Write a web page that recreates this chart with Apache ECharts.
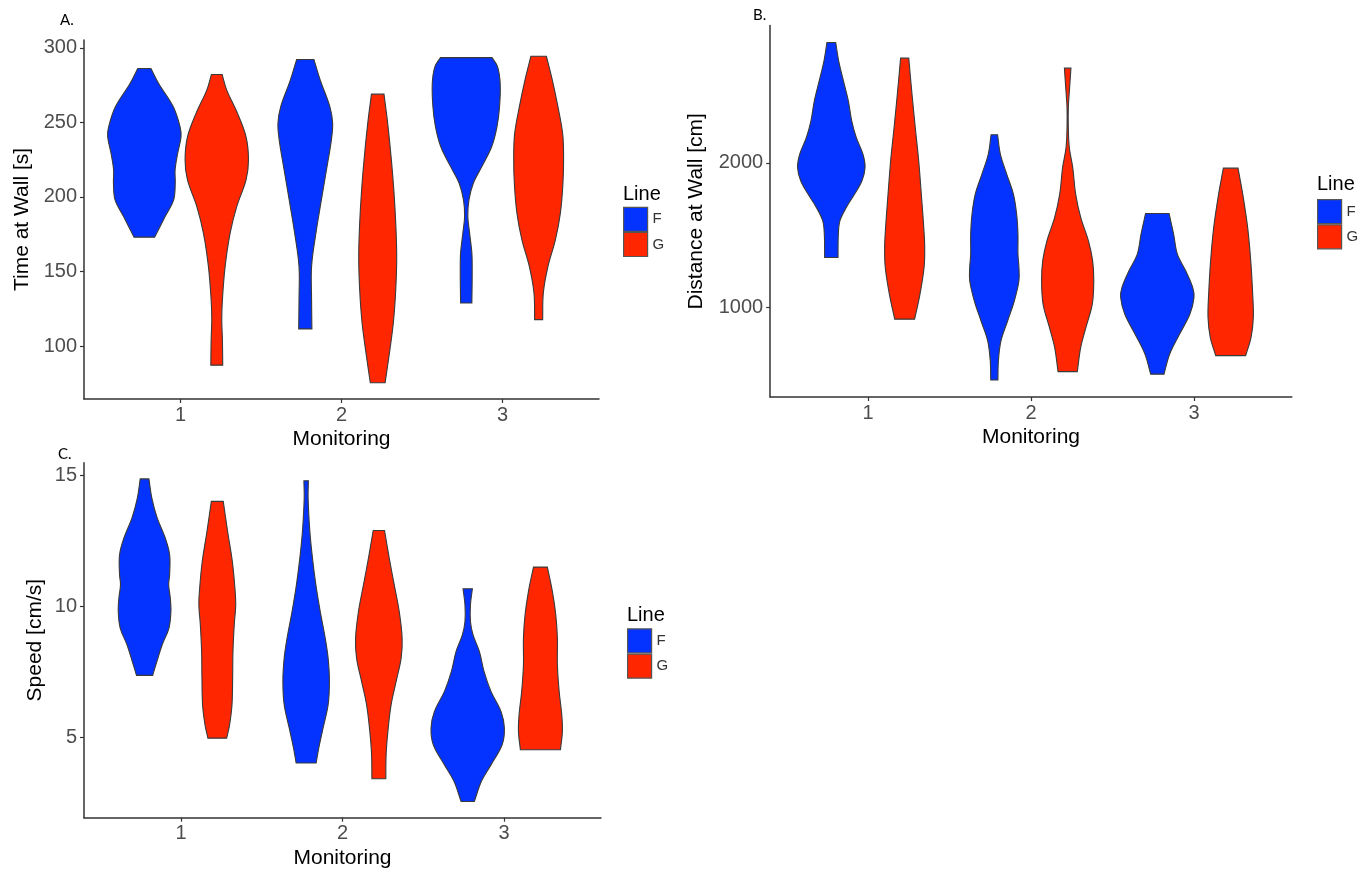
<!DOCTYPE html>
<html><head><meta charset="utf-8">
<script src="https://cdn.jsdelivr.net/npm/echarts@6/dist/echarts.min.js"></script>
<style>html,body{margin:0;padding:0;background:#fff}#c{width:1361px;height:869px}</style>
</head><body><div id="c"></div>
<script>
// ---------------- data ----------------
const monitoring = [1, 2, 3];
const lineNames = ['F', 'G'];
const lineColors = ['#0433FF', '#FF2600'];

// Violin profiles: [value, half-width of density (x-axis units)], top to bottom
// Panel A: Time at Wall [s]
const timeF1 = [[286.1,0.041],[276.0,0.089],[260.4,0.180],[247.0,0.222],[240.3,0.228],[229.2,0.207],[218.1,0.191],[209.2,0.192],[198.0,0.182],[186.8,0.129],[173.0,0.064]];
const timeF2 = [[292.1,0.054],[278.3,0.093],[260.4,0.153],[249.3,0.170],[238.1,0.162],[220.3,0.135],[198.0,0.100],[175.7,0.066],[153.4,0.039],[131.1,0.039],[111.5,0.041]];
const timeF3 = [[293.4,0.160],[287.2,0.195],[276.0,0.211],[260.4,0.207],[247.0,0.191],[233.6,0.158],[220.3,0.097],[209.2,0.044],[198.0,0.017],[186.8,0.010],[175.7,0.021],[162.3,0.035],[149.0,0.037],[128.9,0.035]];
const timeG1 = [[282.1,0.033],[271.6,0.062],[256.0,0.129],[240.3,0.182],[224.7,0.197],[211.4,0.182],[193.5,0.124],[175.7,0.083],[153.4,0.052],[131.1,0.035],[117.7,0.031],[104.3,0.035],[87.2,0.037]];
const timeG2 = [[268.9,0.039],[249.3,0.062],[227.0,0.083],[204.7,0.100],[182.4,0.112],[160.1,0.118],[137.8,0.112],[115.5,0.097],[93.2,0.070],[75.4,0.046]];
const timeG3 = [[294.3,0.048],[278.3,0.085],[260.4,0.120],[242.6,0.149],[227.0,0.155],[209.2,0.151],[189.1,0.135],[171.2,0.104],[153.4,0.058],[135.6,0.029],[117.7,0.025]];

// Panel B: Distance at Wall [cm]
const distF1 = [[2832,0.027],[2706,0.045],[2568,0.074],[2430,0.104],[2291,0.125],[2176,0.153],[2061,0.194],[1969,0.207],[1877,0.188],[1785,0.143],[1693,0.092],[1601,0.053],[1508,0.043],[1347,0.041]];
const distF2 = [[2195,0.020],[2061,0.037],[1923,0.076],[1785,0.117],[1646,0.137],[1508,0.145],[1370,0.145],[1278,0.151],[1186,0.151],[1048,0.123],[910,0.082],[772,0.041],[634,0.025],[500,0.022]];
const distF3 = [[1651,0.072],[1508,0.100],[1370,0.123],[1255,0.174],[1140,0.217],[1071,0.225],[956,0.200],[818,0.137],[680,0.076],[541,0.041]];
const distG1 = [[2724,0.025],[2475,0.045],[2245,0.065],[2015,0.086],[1785,0.102],[1555,0.117],[1416,0.123],[1278,0.119],[1094,0.094],[921,0.061]];
const distG2 = [[2655,0.020],[2521,0.012],[2383,0.004],[2245,0.004],[2107,0.010],[1969,0.031],[1785,0.049],[1624,0.080],[1463,0.127],[1325,0.153],[1186,0.160],[1025,0.151],[864,0.112],[726,0.080],[558,0.059]];
const distG3 = [[1964,0.045],[1785,0.074],[1555,0.104],[1325,0.123],[1094,0.135],[933,0.139],[795,0.125],[669,0.092]];

// Panel C: Speed [cm/s]
const speedF1 = [[14.87,0.027],[14.14,0.045],[13.38,0.078],[12.61,0.128],[11.97,0.155],[11.21,0.155],[10.83,0.149],[10.32,0.159],[9.81,0.163],[9.17,0.151],[8.53,0.109],[7.89,0.076],[7.36,0.050]];
const speedF2 = [[14.80,0.014],[14.14,0.012],[12.86,0.023],[11.85,0.039],[10.83,0.060],[9.81,0.087],[8.79,0.118],[8.02,0.136],[7.13,0.144],[6.24,0.136],[5.35,0.105],[4.58,0.078],[4.01,0.062]];
const speedF3 = [[10.67,0.029],[10.06,0.017],[9.42,0.017],[8.91,0.033],[8.28,0.072],[7.51,0.101],[6.75,0.144],[5.98,0.206],[5.35,0.227],[4.71,0.213],[3.94,0.144],[3.31,0.085],[2.54,0.041]];
const speedG1 = [[14.01,0.037],[12.86,0.064],[11.72,0.093],[10.70,0.109],[10.06,0.114],[9.30,0.105],[8.28,0.097],[7.26,0.095],[6.24,0.091],[5.47,0.076],[4.96,0.058]];
const speedG2 = [[12.90,0.035],[11.85,0.064],[10.83,0.095],[9.81,0.126],[8.79,0.144],[8.02,0.138],[7.13,0.107],[6.24,0.076],[5.22,0.056],[4.33,0.045],[3.41,0.043]];
const speedG3 = [[11.50,0.043],[10.57,0.074],[9.68,0.095],[8.79,0.105],[7.77,0.105],[6.75,0.116],[5.86,0.132],[5.22,0.136],[4.52,0.124]];

const timeTicks = [100, 150, 200, 250, 300];
const distTicks = [1000, 2000];
const speedTicks = [5, 10, 15];

// ---------------- chart ----------------
const FONT = '"Liberation Sans", Arial, sans-serif';
const panels = [
  { label: 'A.', yName: 'Time at Wall [s]', yTicks: timeTicks, yMin: 64.5, yMax: 305.2, F: [timeF1, timeF2, timeF3], G: [timeG1, timeG2, timeG3],
    grid: { left: 84, top: 40, width: 515, height: 359 }, yGap: 51, labelPos: [60, 20], legendPos: [623, 194, 206.7] },
  { label: 'B.', yName: 'Distance at Wall [cm]', yTicks: distTicks, yMin: 383, yMax: 2949, F: [distF1, distF2, distF3], G: [distG1, distG2, distG3],
    grid: { left: 770.2, top: 25.6, width: 521.6, height: 371.4 }, yGap: 63, labelPos: [753, 15], legendPos: [1317, 184, 199] },
  { label: 'C.', yName: 'Speed [cm/s]', yTicks: speedTicks, yMin: 1.92, yMax: 15.49, F: [speedF1, speedF2, speedF3], G: [speedG1, speedG2, speedG3],
    grid: { left: 84, top: 462.7, width: 517, height: 355 }, yGap: 38, labelPos: [58, 454], legendPos: [627, 615, 628.3] }
];
const DODGE = 0.225;

function makeRender(profiles, offset) {
  return function (params, api) {
    const i = params.dataIndex;
    const prof = profiles[i];
    const xc = api.value(0) + offset;
    const right = prof.map(p => api.coord([xc + p[1], p[0]]));
    const left = prof.map(p => api.coord([xc - p[1], p[0]])).reverse();
    const pts = [];
    const n = right.length;
    right.forEach((pt, k) => { pts.push(pt); if (k === 0 || k === n - 1) pts.push(pt.slice()); });
    left.forEach((pt, k) => { pts.push(pt); if (k === 0 || k === n - 1) pts.push(pt.slice()); });
    return {
      type: 'polygon',
      shape: { points: pts, smooth: 0.35 },
      style: { fill: api.visual('color'), stroke: '#3a3a3a', lineWidth: 1.1 }
    };
  };
}

const option = {
  animation: false,
  backgroundColor: '#ffffff',
  grid: panels.map(p => Object.assign({ containLabel: false, outerBoundsMode: 'none' }, p.grid)),
  xAxis: panels.map((p, i) => ({
    type: 'value', gridIndex: i, min: 0.4, max: 3.6,
    name: 'Monitoring', nameLocation: 'middle', nameGap: 30,
    nameTextStyle: { fontSize: 21, color: '#000', fontFamily: FONT },
    axisLine: { onZero: false, lineStyle: { color: '#333', width: 1.5 } },
    axisTick: { show: true, customValues: monitoring, length: 4, lineStyle: { color: '#333', width: 1.2 } },
    axisLabel: { customValues: monitoring, fontSize: 20, color: '#4d4d4d', margin: 6, fontFamily: FONT, formatter: v => String(v) },
    splitLine: { show: false }
  })),
  yAxis: panels.map((p, i) => ({
    type: 'value', gridIndex: i, min: p.yMin, max: p.yMax,
    name: p.yName, nameLocation: 'middle', nameGap: p.yGap, nameRotate: 90,
    nameTextStyle: { fontSize: 21, color: '#000', fontFamily: FONT },
    axisLine: { show: true, onZero: false, lineStyle: { color: '#333', width: 1.5 } },
    axisTick: { show: true, customValues: p.yTicks, length: 4, lineStyle: { color: '#333', width: 1.2 } },
    axisLabel: { customValues: p.yTicks, fontSize: 20, color: '#4d4d4d', margin: 7, fontFamily: FONT, formatter: v => String(v) },
    splitLine: { show: false }
  })),
  legend: panels.map(p => ({
    orient: 'vertical', left: p.legendPos[0], top: p.legendPos[2], padding: 0,
    data: lineNames, icon: 'rect', itemWidth: 24, itemHeight: 24, itemGap: 0,
    selectedMode: false,
    itemStyle: { borderColor: '#555', borderWidth: 1.2 },
    textStyle: { fontSize: 15, color: '#333', fontFamily: FONT }
  })),
  graphic: panels.flatMap(p => [
    { type: 'text', x: p.legendPos[0], y: p.legendPos[1],
      style: { text: 'Line', fontSize: 20, fontFamily: FONT, fill: '#000', align: 'left', verticalAlign: 'middle' } },
    { type: 'text', x: p.labelPos[0], y: p.labelPos[1],
      style: { text: p.label, fontSize: 15, fontFamily: 'Lato, "Open Sans", sans-serif', fill: '#000', align: 'left', verticalAlign: 'middle' } }
  ]),
  series: panels.flatMap((p, i) => lineNames.map((ln, j) => {
    const profiles = p[ln];
    return {
      type: 'custom', name: ln, xAxisIndex: i, yAxisIndex: i,
      itemStyle: { color: lineColors[j] },
      encode: { x: 0, y: 1 },
      data: monitoring.map((m, k) => [m, profiles[k][0][0]]),
      renderItem: makeRender(profiles, j === 0 ? -DODGE : DODGE),
      silent: true
    };
  }))
};

const chart = echarts.init(document.getElementById('c'), null, { renderer: 'canvas' });
chart.setOption(option);
</script>
</body></html>
